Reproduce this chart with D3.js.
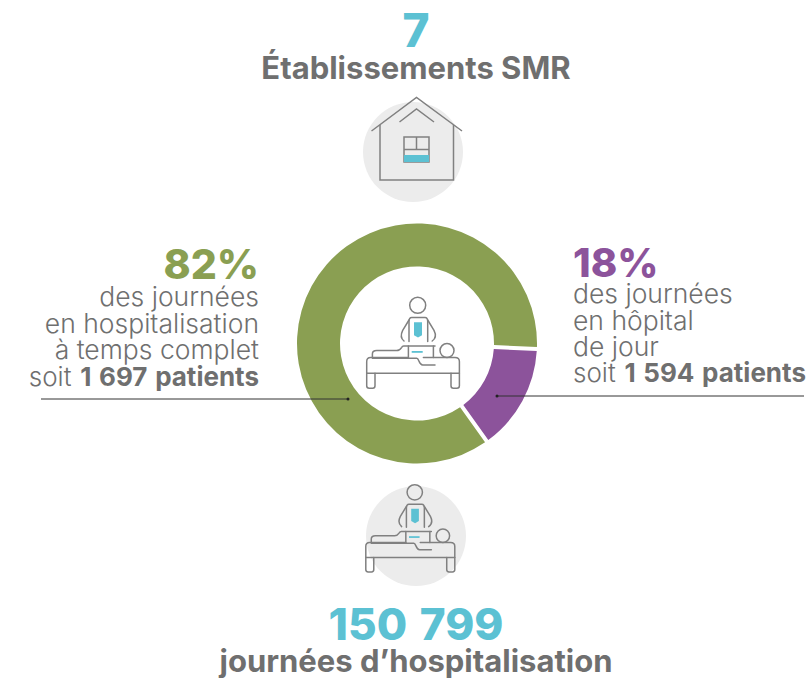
<!DOCTYPE html>
<html lang="fr">
<head>
  <meta charset="utf-8">
  <title>Établissements SMR</title>
  <script src="https://d3js.org/d3.v7.min.js"></script>
  <style>
    html, body { margin: 0; padding: 0; background: #fff; }
    svg { display: block; }
    text { font-family: Inter, "Open Sans", sans-serif; }
  </style>
</head>
<body>
  <svg id="chart" width="807" height="678"></svg>
  <script>
    // share of the ring as drawn
    const sliceNames = ["hospitalisation à temps complet", "hôpital de jour"];
    const sliceShares = [85.6, 14.4];
    const sliceColors = ["#8a9f52", "#8c539b"];

    const leftLines = ["des journées", "en hospitalisation", "à temps complet"];
    const rightLines = ["des journées", "en hôpital", "de jour"];

    const teal = "#5cc1d3", grey = "#6f6f6f", lineGrey = "#808080", disc = "#ececec";

    const svg = d3.select("#chart");

    function label(x, y, txt, size, fill, weight, anchor) {
      return svg.append("text")
        .attr("x", x).attr("y", y)
        .attr("font-size", size)
        .attr("font-weight", weight || 400)
        .attr("fill", fill)
        .attr("text-anchor", anchor || "start")
        .text(txt);
    }

    // top block
    label(416, 47, "7", 46, teal, 800, "middle");
    label(416, 79, "Établissements SMR", 31, grey, 700, "middle");

    // house icon
    svg.append("circle").attr("cx", 413).attr("cy", 152).attr("r", 50).attr("fill", disc);
    let house = svg.append("g").attr("fill", "none").attr("stroke", lineGrey).attr("stroke-width", 1.5);
    house.append("path").attr("d", "M371.5,131L416.5,97.5L462,131");
    house.append("path").attr("d", "M399.5,122L416.5,109L434,122");
    house.append("path").attr("d", "M380,125V180H453.5V125");
    svg.append("rect").attr("x", 404).attr("y", 155).attr("width", 25).attr("height", 7).attr("fill", teal);
    house.append("rect").attr("x", 404).attr("y", 137).attr("width", 25).attr("height", 25);
    house.append("path").attr("d", "M404,149.5H429M416.5,137V149.5");

    // ring
    const pie = d3.pie().sort(null).value(d => d)
      .startAngle(144.5 * Math.PI / 180)
      .endAngle((144.5 + 360) * Math.PI / 180);
    const arc = d3.arc().innerRadius(77).outerRadius(120).padAngle(0.04).padRadius(100);
    svg.append("g").attr("transform", "translate(417,343.5)")
      .selectAll("path")
      .data(pie(sliceShares))
      .join("path")
      .attr("d", arc)
      .attr("fill", (d, i) => sliceColors[i])
      .append("title").text((d, i) => sliceNames[i]);

    // therapist + patient, drawn at the ring's scale
    function careIcon(tx, ty, k) {
      let g = svg.append("g").attr("transform", `translate(${tx},${ty}) scale(${k})`);
      g.append("path").attr("d", "M-2.7,-21H5.3V-8L1.3,-5.7L-2.7,-8Z").attr("fill", teal);
      g.append("rect").attr("x", -5).attr("y", 7.7).attr("width", 11).attr("height", 1.8).attr("fill", teal);
      let s = g.append("g").attr("fill", "none").attr("stroke", lineGrey).attr("stroke-width", 1.5 / k)
        .attr("stroke-linecap", "round").attr("stroke-linejoin", "round");
      s.append("circle").attr("cx", 1).attr("cy", -38).attr("r", 8);
      // shoulders and arms
      s.append("path").attr("d", "M-7.7,-1.7V-21.7C-7.7,-24 -6.5,-25.7 -5,-25.7H8.3C9.8,-25.7 11,-24 11,-21.7V-1.7");
      s.append("path").attr("d", "M-7.7,-23.3L-14,-13C-16,-9 -16,-5 -12.7,-2.3");
      s.append("path").attr("d", "M11,-23.3L17.3,-13C19.3,-9 19.3,-5 15.5,-2.3");
      // patient
      s.append("circle").attr("cx", 30.3).attr("cy", 7.3).attr("r", 7);
      s.append("path").attr("d", "M-44.3,14.3V10.7C-44.3,8.7 -42.5,7.3 -40,7.3H-20C-17,7.3 -16,5.5 -15,4C-14.5,3 -13.8,2.7 -13,2.7H18.3");
      s.append("path").attr("d", "M-8.3,2.7V15M16.7,2.7V14.3");
      s.append("path").attr("d", "M-44.3,15H0C2.5,15 2,21.7 6,21.7H18.3");
      // bed
      s.append("path").attr("d", "M-8.3,14.3H-46C-48.5,14.3 -50,16 -50,18.3V30H42.7V18.3C42.7,16 41,14.3 38.3,14.3H6.7");
      s.append("path").attr("d", "M-50,30V42.5C-50,44 -49,45 -47.5,45H-44C-42.5,45 -41.7,44 -41.7,42.5V30");
      s.append("path").attr("d", "M34.3,30V42.5C34.3,44 35.2,45 36.7,45H40.2C41.7,45 42.7,44 42.7,42.5V30");
    }
    careIcon(416.7, 343.3, 1);

    // bottom icon
    svg.append("circle").attr("cx", 416).attr("cy", 536).attr("r", 50).attr("fill", disc);
    careIcon(413.8, 528.8, 0.96);

    // left label
    label(259, 279, "82%", 41, "#8a9f52", 800, "end");
    leftLines.forEach((t, i) => label(259, 306 + i * 26.6, t, 26.5, grey, 300, "end"));
    let soitL = label(259, 386, "soit ", 26, grey, 300, "end").attr("word-spacing", 1.5);
    soitL.append("tspan").attr("font-weight", 700).text("1 697 patients");
    svg.append("line").attr("x1", 41).attr("x2", 348).attr("y1", 399).attr("y2", 399)
      .attr("stroke", "#333").attr("stroke-width", 1);
    svg.append("circle").attr("cx", 348).attr("cy", 399).attr("r", 1.5).attr("fill", "#222");

    // right label
    label(573, 277, "18%", 40, "#8c539b", 800);
    rightLines.forEach((t, i) => label(573, 303 + i * 26.6, t, 26.5, grey, 300));
    let soitR = label(573, 382, "soit ", 26, grey, 300).attr("word-spacing", 1.5);
    soitR.append("tspan").attr("font-weight", 700).text("1 594 patients");
    svg.append("line").attr("x1", 497).attr("x2", 804).attr("y1", 396).attr("y2", 396)
      .attr("stroke", "#333").attr("stroke-width", 1);
    svg.append("circle").attr("cx", 497).attr("cy", 396).attr("r", 1.5).attr("fill", "#222");

    // bottom block
    label(416, 640, "150 799", 44, teal, 800, "middle").attr("word-spacing", 3);
    label(416, 672, "journées d’hospitalisation", 31, grey, 700, "middle");
  </script>
</body>
</html>
